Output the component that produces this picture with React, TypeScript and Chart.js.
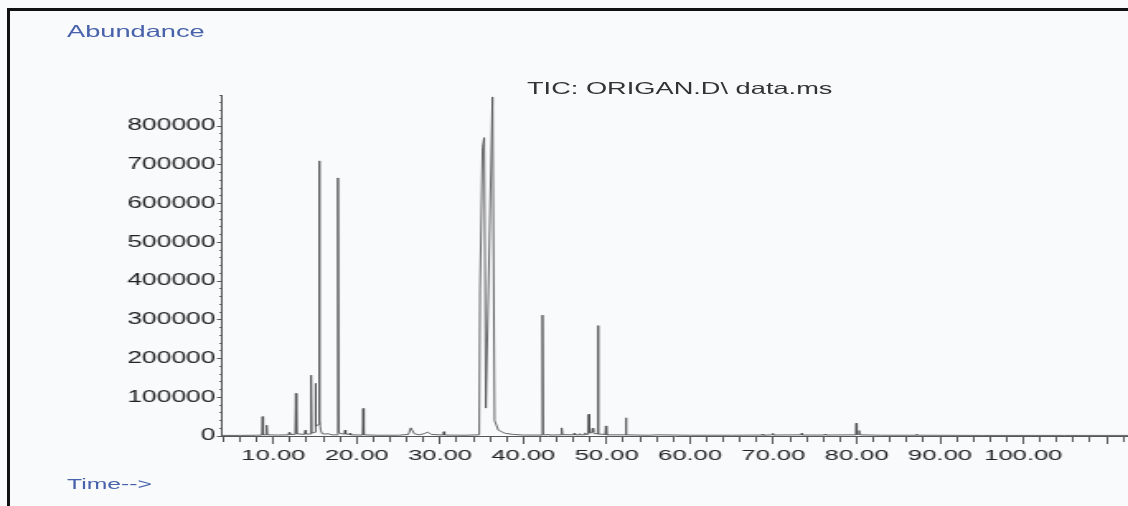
import { useEffect, useRef } from 'react';
import { Chart, registerables } from 'chart.js';

Chart.register(...registerables);

// Retention time (min) and abundance of the TIC trace
const RT_MIN = [
  3.84, 6.0, 8.0, 8.62, 8.7, 8.78, 9.12, 9.2, 9.28, 10.5,
  11.82, 11.9, 11.98, 12.5, 12.62, 12.7, 12.78, 13.7, 13.78, 13.85,
  13.92, 14.45, 14.5, 14.56, 14.62, 14.95, 15.0, 15.06, 15.12, 15.35,
  15.42, 15.5, 15.58, 15.68, 15.85, 16.2, 16.6, 17.0, 17.65, 17.75,
  17.85, 18.4, 18.52, 18.6, 18.68, 19.12, 19.2, 19.28, 20.7, 20.78,
  20.86, 22.5, 25.0, 26.2, 26.5, 26.9, 27.5, 28.1, 28.5, 29.0,
  30.35, 30.45, 30.55, 33.0, 34.7, 34.8, 35.1, 35.3, 35.5, 36.3,
  36.55, 37.0, 37.8, 38.8, 40.0, 42.22, 42.3, 42.38, 42.9, 43.0,
  43.1, 44.5, 44.6, 44.7, 46.0, 46.1, 46.2, 46.7, 46.8, 46.9,
  47.3, 47.4, 47.5, 47.78, 47.85, 47.92, 48.2, 48.3, 48.4, 48.5,
  48.88, 48.95, 49.03, 49.82, 49.9, 49.98, 52.22, 52.3, 52.38, 55.0,
  56.2, 60.0, 65.0, 68.62, 68.7, 68.78, 69.88, 69.95, 70.02, 73.32,
  73.4, 73.48, 76.12, 76.2, 76.28, 79.88, 79.95, 80.02, 80.22, 80.3,
  80.38, 83.0, 87.12, 87.2, 87.28, 95.0, 105.0, 112.56,
];
const ABUNDANCE = [
  1500, 1500, 2000, 2500, 50000, 3000, 3000, 28000, 3000, 2500,
  3000, 9000, 4000, 4000, 5000, 110000, 6000, 4000, 4000, 15000,
  5000, 5000, 6000, 157000, 8000, 9000, 10000, 136000, 25000, 28000,
  30000, 710000, 40000, 15000, 6000, 5000, 6000, 3000, 3000, 666000,
  8000, 5000, 6000, 15000, 5000, 4000, 7000, 3000, 2500, 71000,
  3000, 2000, 2000, 4000, 21000, 6000, 3000, 6000, 10000, 4000,
  2500, 11000, 2500, 2000, 3000, 380000, 745000, 770000, 72000, 875000,
  40000, 15000, 7000, 4000, 2500, 2500, 312000, 3000, 3000, 5000,
  2500, 3000, 21000, 3500, 3000, 7000, 3000, 3000, 6000, 3000,
  3000, 8000, 4000, 4000, 56000, 8000, 8000, 20000, 10000, 6000,
  6000, 285000, 5000, 4000, 26000, 3000, 3000, 47000, 3000, 2000,
  3000, 2000, 2000, 2500, 5000, 2000, 3000, 7000, 2500, 3000,
  7000, 2500, 2500, 5000, 2500, 3000, 33000, 4000, 4000, 14000,
  3000, 2000, 2000, 5000, 2000, 1500, 1500, 1500,
];

const X_LABELED = [10, 20, 30, 40, 50, 60, 70, 80, 90, 100];
const Y_LABELED = [0, 100000, 200000, 300000, 400000, 500000, 600000, 700000, 800000];

const X_MIN = 3.84;
const X_MAX = 112.56;
const Y_MAX = 880000;

const TITLE = 'TIC: ORIGAN.D\\ data.ms';
const Y_TITLE = 'Abundance';
const X_TITLE = 'Time-->';

const W = 684;
const H = 506;
const SX = 1128 / W;
const FONT = '"Liberation Sans", Arial, Helvetica, sans-serif';

export default function App() {
  const ref = useRef<HTMLCanvasElement>(null);

  useEffect(() => {
    const chart = new Chart(ref.current as HTMLCanvasElement, {
      type: 'line',
      data: {
        datasets: [
          {
            data: RT_MIN.map((x, i) => ({ x, y: ABUNDANCE[i] })),
            borderColor: '#4a4a4a',
            borderWidth: 0.85,
            pointRadius: 0,
            tension: 0,
            fill: false,
          },
        ],
      },
      options: {
        responsive: false,
        animation: false,
        events: [],
        layout: { padding: { top: 95, left: 0, right: 0, bottom: 0 } },
        plugins: {
          legend: { display: false },
          tooltip: { enabled: false },
          title: { display: false },
        },
        scales: {
          x: {
            type: 'linear',
            min: X_MIN,
            max: X_MAX,
            afterFit: (s: any) => {
              s.height = H - 436;
            },
            border: { color: '#555', width: 1 },
            grid: {
              drawOnChartArea: false,
              tickLength: 8,
              tickColor: '#555',
              tickBorderDash: (c: any) =>
                c.tick && c.tick.value % 10 === 0 ? [] : [5, 20],
            },
            ticks: {
              stepSize: 2,
              autoSkip: false,
              includeBounds: false,
              maxTicksLimit: 1000,
              maxRotation: 0,
              minRotation: 0,
              padding: 2.5,
              color: '#222',
              font: { family: FONT, size: 15.5 },
              callback: (v: any) => (X_LABELED.includes(Number(v)) ? Number(v).toFixed(2) : ''),
            },
          },
          y: {
            type: 'linear',
            min: 0,
            max: Y_MAX,
            afterFit: (s: any) => {
              s.width = 222 / SX;
            },
            border: { color: '#555', width: 1 },
            grid: {
              drawOnChartArea: false,
              tickLength: 3,
              tickColor: '#555',
              tickBorderDash: (c: any) =>
                c.tick && c.tick.value % 100000 === 0 ? [] : [0, 1.5, 1.5, 10],
            },
            ticks: {
              stepSize: 20000,
              autoSkip: false,
              includeBounds: false,
              maxTicksLimit: 1000,
              padding: 1,
              color: '#222',
              font: { family: FONT, size: 16 },
              callback: (v: any) => (Y_LABELED.includes(Number(v)) ? String(v) : ''),
            },
          },
        },
      },
    });
    return () => chart.destroy();
  }, []);

  const textBase = {
    position: 'absolute' as const,
    whiteSpace: 'nowrap' as const,
    fontFamily: FONT,
    margin: 0,
  };

  return (
    <div
      style={{
        position: 'fixed',
        left: 0,
        top: 0,
        width: 1128,
        height: 506,
        overflow: 'hidden',
        background: '#f9fafc',
      }}
    >
      <div
        style={{
          position: 'absolute',
          left: 7,
          top: 8,
          right: -20,
          bottom: -20,
          borderLeft: '3px solid #111',
          borderTop: '3px solid #111',
        }}
      />
      <div
        style={{
          position: 'absolute',
          left: 0,
          top: 0,
          width: W,
          height: H,
          transform: `scaleX(${SX})`,
          transformOrigin: '0 0',
        }}
      >
        <canvas ref={ref} width={W} height={H} style={{ display: 'block' }} />
        <div
          style={{
            ...textBase,
            left: 67 / SX,
            top: 23,
            fontSize: 16.5,
            lineHeight: '16.5px',
            color: '#4862ab',
          }}
        >
          {Y_TITLE}
        </div>
        <div
          style={{
            ...textBase,
            left: 67 / SX,
            top: 476,
            fontSize: 15,
            lineHeight: '15px',
            color: '#4862ab',
          }}
        >
          {X_TITLE}
        </div>
        <div
          style={{
            ...textBase,
            left: 527 / SX,
            top: 79.5,
            fontSize: 16.5,
            lineHeight: '16.5px',
            color: '#333',
          }}
        >
          {TITLE}
        </div>
      </div>
    </div>
  );
}
